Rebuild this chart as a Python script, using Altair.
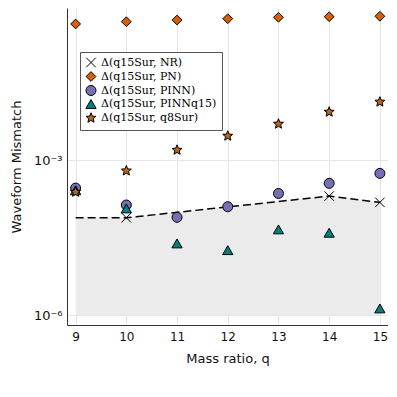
import altair as alt
import pandas as pd

q = [9, 10, 11, 12, 13, 14, 15]
pn = [0.428, 0.473, 0.51, 0.541, 0.575, 0.592, 0.603]
pinn = [2.87e-4, 1.35e-4, 7.8e-5, 1.25e-4, 2.26e-4, 3.54e-4, 5.52e-4]
pinnq15 = [2.6e-4, 1.16e-4, 2.44e-5, 1.81e-5, 4.56e-5, 3.93e-5, 1.35e-6]
q8sur = [2.40e-4, 6.2e-4, 1.56e-3, 2.92e-3, 4.98e-3, 8.5e-3, 1.33e-2]
q_nr_line = [9, 10, 14, 15]
nr_line = [7.66e-5, 7.66e-5, 2.01e-4, 1.52e-4]
q_nr = [10, 14, 15]
nr = [7.66e-5, 2.01e-4, 1.52e-4]
floor = 1e-6

names = ["Δ(q15Sur, NR)", "Δ(q15Sur, PN)", "Δ(q15Sur, PINN)",
         "Δ(q15Sur, PINNq15)", "Δ(q15Sur, q8Sur)"]
colors = ["#000000", "#d95f02", "#7570b3", "#008080", "#b8651b"]
star = ("M0,-1L0.26,-0.36L0.95,-0.31L0.42,0.14L0.59,0.81L0,0.45L-0.59,0.81"
        "L-0.42,0.14L-0.95,-0.31L-0.26,-0.36Z")
xpath = "M-1,-1L1,1M-1,1L1,-1"
shapes = [xpath, "diamond", "circle", "triangle-up", star]

rows = []
for x, v in zip(q_nr, nr):
    rows.append({"q": x, "m": v, "s": names[0]})
for arr, nm in [(pn, names[1]), (pinn, names[2]), (pinnq15, names[3]), (q8sur, names[4])]:
    for x, v in zip(q, arr):
        rows.append({"q": x, "m": v, "s": nm})
pts = pd.DataFrame(rows)
pts["order"] = pts["s"].map({n: i for i, n in enumerate(names)})
line_df = pd.DataFrame({"q": q_nr_line, "m": nr_line, "lo": [floor] * len(q_nr_line)})

xsc = alt.Scale(domain=[8.83, 15.16], nice=False, zero=False)
ysc = alt.Scale(type="log", domain=[10 ** -6.19, 10 ** -0.06], nice=False)

xax = alt.Axis(values=q, format="d", title="Mass ratio, q", grid=True, gridColor="#e6e6e6",
               ticks=False, domainColor="#333333", labelFontSize=12, titleFontSize=13,
               labelColor="#111", titleColor="#111", labelPadding=6, titlePadding=10,
               labelFont="DejaVu Sans", titleFont="DejaVu Sans", titleFontWeight="normal")
yax = alt.Axis(values=[1e-6, 1e-3], title="Waveform Mismatch", grid=True,
               gridColor="#e6e6e6", ticks=False, domainColor="#333333",
               labelExpr="datum.value < 1e-4 ? '10⁻⁶' : '10⁻³'",
               labelFontSize=13, titleFontSize=13, labelColor="#111", titleColor="#111",
               labelPadding=5, titlePadding=10, labelFont="DejaVu Sans",
               titleFont="DejaVu Sans", titleFontWeight="normal")

area = alt.Chart(line_df).mark_area(color="#ebebeb", opacity=1).encode(
    x=alt.X("q:Q", scale=xsc, axis=xax),
    y=alt.Y("lo:Q", scale=ysc, axis=yax),
    y2="m:Q",
)
line = alt.Chart(line_df).mark_line(color="black", strokeDash=[8, 4], strokeWidth=1.5).encode(
    x=alt.X("q:Q", scale=xsc),
    y=alt.Y("m:Q", scale=ysc),
)
points = alt.Chart(pts).mark_point(filled=True, stroke="black", strokeWidth=1, opacity=1,
                                   fillOpacity=1, strokeOpacity=1).encode(
    x=alt.X("q:Q", scale=xsc),
    y=alt.Y("m:Q", scale=ysc),
    color=alt.Color("s:N", scale=alt.Scale(domain=names, range=colors),
                    legend=alt.Legend(title=None, orient="none", legendX=13, legendY=44,
                                      strokeColor="#555555", fillColor="white", padding=5,
                                      labelFont="DejaVu Serif", labelFontSize=11,
                                      symbolStrokeColor="black", symbolStrokeWidth=1,
                                      symbolSize=100, rowPadding=-1, labelLimit=300,
                                      symbolOpacity=1, labelOffset=4)),
    shape=alt.Shape("s:N", scale=alt.Scale(domain=names, range=shapes), legend=None),
    size=alt.Size("s:N", scale=alt.Scale(domain=names, range=[90, 110, 130, 110, 90]), legend=None),
    order="order:Q",
)

chart = alt.layer(area, line, points).properties(
    width=321, height=317,
    autosize=alt.AutoSizeParams(type="none"),
    padding={"left": 59, "top": 0, "right": 0, "bottom": 62},
).configure_view(stroke=None)

chart.save("out.html", embed_options={"renderer": "svg", "actions": False})
